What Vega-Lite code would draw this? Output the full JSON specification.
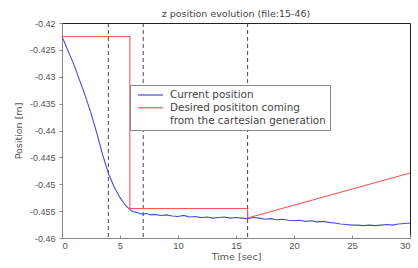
{
  "$schema": "https://vega.github.io/schema/vega-lite/v6.json",
  "width": 348,
  "height": 215,
  "autosize": "none",
  "padding": {"left": 62, "top": 23, "right": 8, "bottom": 30},
  "background": "white",
  "config": {
    "font": "Liberation Sans",
    "view": {"stroke": "#222", "strokeWidth": 1},
    "axis": {"labelFont": "Liberation Sans", "titleFont": "DejaVu Sans", "labelColor": "#555", "titleColor": "#555", "labelFontSize": 9, "titleFontSize": 9.5, "titleFontWeight": "normal", "grid": false, "domainColor": "#888", "tickColor": "#888"}
  },
  "title": {"text": "z position evolution (file:15-46)", "fontSize": 9.5, "fontWeight": "normal", "color": "#444", "offset": 1, "font": "DejaVu Sans"},
  "datasets": {
    "lines": [
      {"s": "Current position", "i": 0, "t": 0, "z": -0.4225},
      {"s": "Current position", "i": 1, "t": 1, "z": -0.4276},
      {"s": "Current position", "i": 2, "t": 2, "z": -0.4335},
      {"s": "Current position", "i": 3, "t": 2.5, "z": -0.4368},
      {"s": "Current position", "i": 4, "t": 3, "z": -0.4405},
      {"s": "Current position", "i": 5, "t": 3.5, "z": -0.4445},
      {"s": "Current position", "i": 6, "t": 4, "z": -0.448},
      {"s": "Current position", "i": 7, "t": 4.5, "z": -0.4505},
      {"s": "Current position", "i": 8, "t": 5, "z": -0.4525},
      {"s": "Current position", "i": 9, "t": 5.5, "z": -0.454},
      {"s": "Current position", "i": 10, "t": 6, "z": -0.455},
      {"s": "Current position", "i": 11, "t": 6.5, "z": -0.4553},
      {"s": "Current position", "i": 12, "t": 7, "z": -0.4556},
      {"s": "Current position", "i": 13, "t": 7.3, "z": -0.4554},
      {"s": "Current position", "i": 14, "t": 7.6, "z": -0.4557},
      {"s": "Current position", "i": 15, "t": 8, "z": -0.4556},
      {"s": "Current position", "i": 16, "t": 8.5, "z": -0.4558},
      {"s": "Current position", "i": 17, "t": 9, "z": -0.4557},
      {"s": "Current position", "i": 18, "t": 9.5, "z": -0.4559},
      {"s": "Current position", "i": 19, "t": 10, "z": -0.456},
      {"s": "Current position", "i": 20, "t": 10.5, "z": -0.4558},
      {"s": "Current position", "i": 21, "t": 11, "z": -0.4561},
      {"s": "Current position", "i": 22, "t": 11.5, "z": -0.456},
      {"s": "Current position", "i": 23, "t": 12, "z": -0.4562},
      {"s": "Current position", "i": 24, "t": 12.5, "z": -0.4561},
      {"s": "Current position", "i": 25, "t": 13, "z": -0.4563},
      {"s": "Current position", "i": 26, "t": 13.5, "z": -0.4562},
      {"s": "Current position", "i": 27, "t": 14, "z": -0.4561},
      {"s": "Current position", "i": 28, "t": 14.5, "z": -0.4563},
      {"s": "Current position", "i": 29, "t": 15, "z": -0.4562},
      {"s": "Current position", "i": 30, "t": 15.5, "z": -0.4563},
      {"s": "Current position", "i": 31, "t": 16, "z": -0.4564},
      {"s": "Current position", "i": 32, "t": 16.5, "z": -0.4562},
      {"s": "Current position", "i": 33, "t": 17, "z": -0.4563},
      {"s": "Current position", "i": 34, "t": 17.5, "z": -0.4565},
      {"s": "Current position", "i": 35, "t": 18, "z": -0.4564},
      {"s": "Current position", "i": 36, "t": 18.5, "z": -0.4566},
      {"s": "Current position", "i": 37, "t": 19, "z": -0.4565},
      {"s": "Current position", "i": 38, "t": 19.5, "z": -0.4567},
      {"s": "Current position", "i": 39, "t": 20, "z": -0.4568},
      {"s": "Current position", "i": 40, "t": 20.5, "z": -0.4567},
      {"s": "Current position", "i": 41, "t": 21, "z": -0.4569},
      {"s": "Current position", "i": 42, "t": 21.5, "z": -0.4568},
      {"s": "Current position", "i": 43, "t": 22, "z": -0.457},
      {"s": "Current position", "i": 44, "t": 22.5, "z": -0.4569},
      {"s": "Current position", "i": 45, "t": 23, "z": -0.4571},
      {"s": "Current position", "i": 46, "t": 23.5, "z": -0.4572},
      {"s": "Current position", "i": 47, "t": 24, "z": -0.4574},
      {"s": "Current position", "i": 48, "t": 24.5, "z": -0.4575},
      {"s": "Current position", "i": 49, "t": 25, "z": -0.4576},
      {"s": "Current position", "i": 50, "t": 25.5, "z": -0.4576},
      {"s": "Current position", "i": 51, "t": 26, "z": -0.4577},
      {"s": "Current position", "i": 52, "t": 26.5, "z": -0.4576},
      {"s": "Current position", "i": 53, "t": 27, "z": -0.4577},
      {"s": "Current position", "i": 54, "t": 27.5, "z": -0.4576},
      {"s": "Current position", "i": 55, "t": 28, "z": -0.4575},
      {"s": "Current position", "i": 56, "t": 28.5, "z": -0.4576},
      {"s": "Current position", "i": 57, "t": 29, "z": -0.4574},
      {"s": "Current position", "i": 58, "t": 29.5, "z": -0.4573},
      {"s": "Current position", "i": 59, "t": 30, "z": -0.4572},
      {"s": "Desired posititon coming", "i": 0, "t": 0, "z": -0.4225},
      {"s": "Desired posititon coming", "i": 1, "t": 5.85, "z": -0.4225},
      {"s": "Desired posititon coming", "i": 2, "t": 5.85, "z": -0.4545},
      {"s": "Desired posititon coming", "i": 3, "t": 16, "z": -0.4545},
      {"s": "Desired posititon coming", "i": 4, "t": 16, "z": -0.4563},
      {"s": "Desired posititon coming", "i": 5, "t": 30, "z": -0.4479}
    ],
    "marks": [{"t": 4}, {"t": 7}, {"t": 16}]
  },
  "layer": [
    {
      "data": {"name": "marks"},
      "mark": {"type": "rule", "color": "#333", "strokeDash": [4, 3], "strokeWidth": 0.9},
      "encoding": {"x": {"field": "t", "type": "quantitative"}}
    },
    {
      "data": {"name": "lines"},
      "mark": {"type": "line", "strokeWidth": 1.1},
      "encoding": {
        "x": {"field": "t", "type": "quantitative", "title": "Time [sec]", "scale": {"domain": [0, 30], "nice": false},
          "axis": {"values": [0, 5, 10, 15, 20, 25, 30], "tickSize": -3, "labelPadding": 5, "labelFontSize": 9.5, "titlePadding": 2}},
        "y": {"field": "z", "type": "quantitative", "title": "Position [m]", "scale": {"domain": [-0.46, -0.42], "nice": false, "zero": false},
          "axis": {"values": [-0.46, -0.455, -0.45, -0.445, -0.44, -0.435, -0.43, -0.425, -0.42], "tickSize": 3, "labelPadding": 4, "titlePadding": 6, "labelExpr": "replace(format(datum.value, '~g'), '\u2212', '-')"}},
        "order": {"field": "i", "type": "quantitative"},
        "color": {"field": "s", "type": "nominal", "scale": {"domain": ["Current position", "Desired posititon coming", "from the cartesian generation"], "range": ["#4a4ae0", "#ee5a5a", "rgba(0,0,0,0)"]},
          "legend": {"title": null, "orient": "none", "legendX": 68, "legendY": 62, "fillColor": "white", "strokeColor": "#888", "padding": 4, "symbolType": "M-2.5,0H2.5", "symbolSize": 100, "symbolOffset": 10.5, "symbolStrokeWidth": 1.2, "labelOffset": 13.5, "labelLimit": 300, "labelFontSize": 10.4, "labelColor": "#444", "labelFont": "DejaVu Sans", "rowPadding": 0.8}}
      }
    }
  ]
}
